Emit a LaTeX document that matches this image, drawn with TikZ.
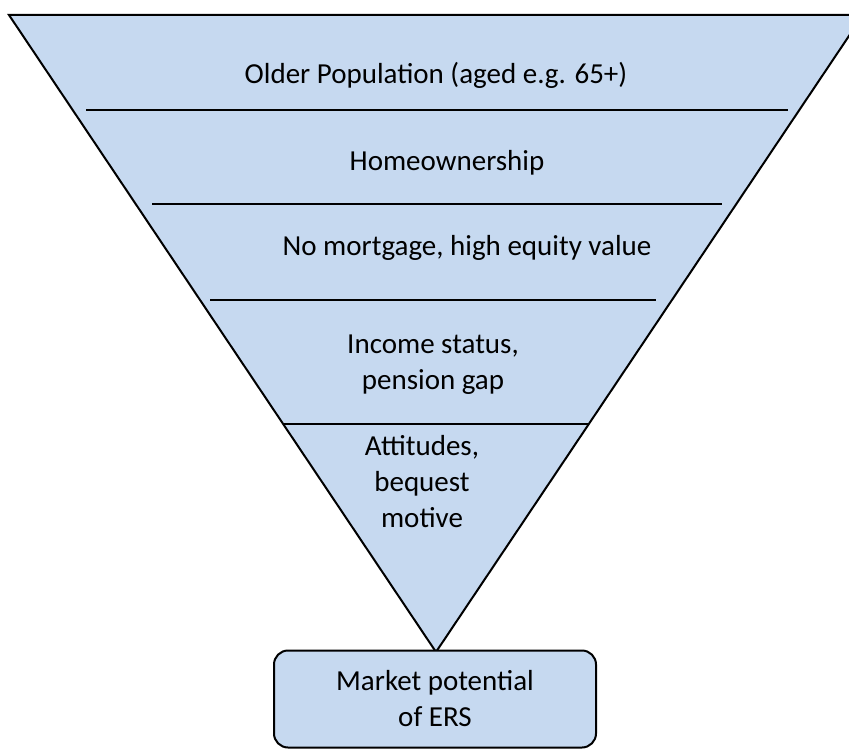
\documentclass[tikz,border=0pt]{standalone}
\usepackage{fontspec}
\setmainfont{Carlito}

\definecolor{layerblue}{RGB}{198,217,240}

\tikzset{layer/.style={align=center,font=\fontsize{29}{36}\selectfont}}
\tikzset{divider/.style={draw,line width=2pt}}
\tikzset{result/.style={layer,draw,line width=2pt,fill=layerblue,rounded corners=14pt,minimum width=322pt,minimum height=97pt}}

\begin{document}
\begin{tikzpicture}[x=1pt, y=-1pt]
	\useasboundingbox (0,0) rectangle (849,749);

	% funnel
	\coordinate (top-left) at (9,15);
	\coordinate (top-right) at (863,15);
	\coordinate (apex) at (436,652);
	\draw [fill=layerblue, line width=2pt, line join=miter] (top-left) -- (top-right) -- (apex) -- cycle;

	% dividers
	\foreach \y/\a/\b [count=\i] in {110/86/788, 204/152/722, 300/210/656, 424/283/589}
	  \draw [divider] (\a,\y) coordinate (div-\i-a) -- (\b,\y) coordinate (div-\i-b);

	% labels of the layers
	\node [layer] (older) at (436,75) {Older Population (aged e.g. 65+)};
	\node [layer] (home) at (447,163) {Homeownership};
	\node [layer] (equity) at (467,248) {No mortgage, high equity value};
	\node [layer] (income) at (433,365) {Income status,\\pension gap};
	\node [layer] (attitude) at (422,482) {Attitudes,\\bequest\\motive};

	% outcome
	\node [result] (market) at (435,699) {Market potential\\of ERS};

\end{tikzpicture}
\end{document}
